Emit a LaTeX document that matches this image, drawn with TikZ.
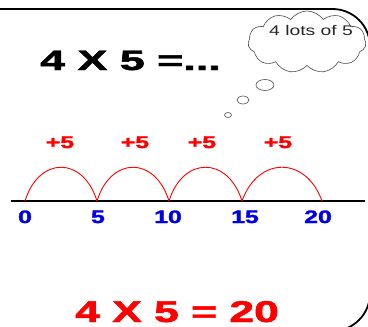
\documentclass[tikz,border=0pt]{standalone}
\usepackage{fontspec}
\setmainfont{Liberation Sans}
\newfontfamily\heavyfont{Liberation Sans}[BoldFeatures={FakeBold=1.6}]
\usetikzlibrary{shapes.symbols,shapes.geometric}
\definecolor{numred}{RGB}{255,0,0}
\definecolor{numblue}{RGB}{0,0,235}
\begin{document}
\begin{tikzpicture}[x=1pt,y=-1pt,
  bigtxt/.style={inner sep=0pt,anchor=base west},
  jumplbl/.style={inner sep=0pt,anchor=base,text=numred,font=\heavyfont\bfseries\fontsize{17}{17}\selectfont},
  numlbl/.style={inner sep=0pt,anchor=base,text=numblue,font=\heavyfont\bfseries\fontsize{18}{18}\selectfont},
  jump/.style={draw=numred,line width=0.9pt},
  bubble/.style={draw=black!70,line width=0.6pt,fill=white}]
\useasboundingbox (0,0) rectangle (368,327);
\clip (0,0) rectangle (368,327);
\fill[white] (0,0) rectangle (368,327);
% frame
\draw[line width=1.8pt,rounded corners=37.5pt] (-40,9) rectangle (370,331);
% thought cloud
\node[cloud, cloud puffs=11, cloud puff arc=110, aspect=1.9, draw=black!70, line width=0.6pt, fill=white,
  minimum width=118pt, minimum height=62pt, inner sep=0pt] (cl) at (307,42) {};
\node[inner sep=0pt,anchor=base west,font=\fontsize{14}{14}\selectfont,text=black!85] (cltxt) at (269,35) {\scalebox{1.38}[1]{4 lots of 5}};
\node[ellipse,bubble,minimum width=18pt,minimum height=11pt,inner sep=0pt] (b1) at (265,85) {};
\node[ellipse,bubble,minimum width=12pt,minimum height=8pt,inner sep=0pt] (b2) at (243,100) {};
\node[ellipse,bubble,minimum width=7pt,minimum height=5pt,inner sep=0pt] (b3) at (228,115) {};
% question
\node[bigtxt,font=\heavyfont\bfseries\fontsize{28}{28}\selectfont] (q) at (40,70) {\scalebox{1.6}[1]{4 X 5 =...}};
% number line
\coordinate (L) at (11,201);
\coordinate (R) at (365,201);
\draw[line width=1.8pt] (L) -- (R);
\coordinate (p0) at (25,201);
\coordinate (p1) at (97,201);
\coordinate (p2) at (169,201);
\coordinate (p3) at (242,201);
\coordinate (p4) at (322,201);
\draw[jump] (p0) .. controls +(14,-45) and +(-14,-45) .. (p1);
\draw[jump] (p1) .. controls +(14,-45) and +(-14,-45) .. (p2);
\draw[jump] (p2) .. controls +(14,-45) and +(-14,-45) .. (p3);
\draw[jump] (p3) .. controls +(16,-45) and +(-16,-45) .. (p4);
\node[jumplbl] (j1) at (60,148) {\scalebox{1.46}[1]{+5}};
\node[jumplbl] (j2) at (135,148) {\scalebox{1.46}[1]{+5}};
\node[jumplbl] (j3) at (202,148) {\scalebox{1.46}[1]{+5}};
\node[jumplbl] (j4) at (278,148) {\scalebox{1.46}[1]{+5}};
\node[numlbl] (n0) at (25,223) {\scalebox{1.38}[1]{0}};
\node[numlbl] (n1) at (98,223) {\scalebox{1.38}[1]{5}};
\node[numlbl] (n2) at (168,223) {\scalebox{1.38}[1]{10}};
\node[numlbl] (n3) at (245,223) {\scalebox{1.38}[1]{15}};
\node[numlbl] (n4) at (318,223) {\scalebox{1.38}[1]{20}};
% answer
\node[bigtxt,text depth=0pt,text=numred,font=\heavyfont\bfseries\fontsize{30}{30}\selectfont] (ans) at (75,322) {\scalebox{1.48}[1]{4 X 5 = 20}};
\end{tikzpicture}
\end{document}
